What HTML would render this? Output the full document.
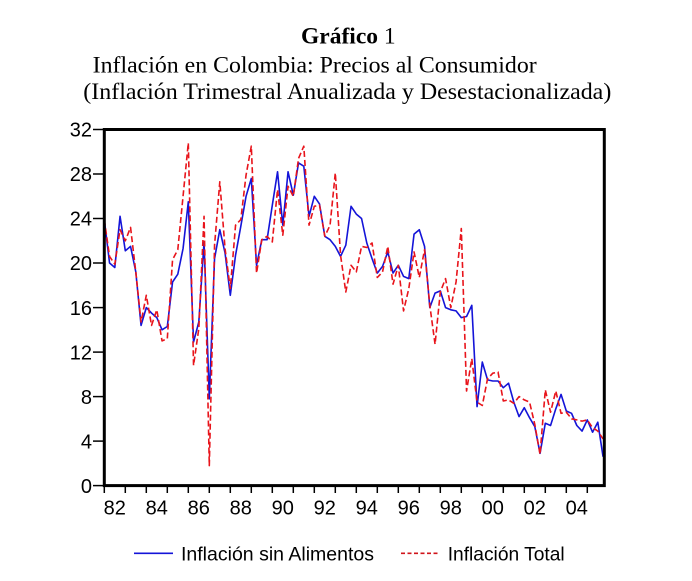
<!DOCTYPE html>
<html><head><meta charset="utf-8"><style>
html,body{margin:0;padding:0;background:#fff;}
svg{display:block;}
</style></head><body>
<svg width="692" height="581" viewBox="0 0 692 581" xmlns="http://www.w3.org/2000/svg">
<rect width="692" height="581" fill="#fff"/>
<g font-family="Liberation Serif, serif" fill="#000">
<text x="301" y="43.5" font-size="23.5"><tspan font-weight="bold">Gráfico</tspan> 1</text>
<text x="92.7" y="72.3" font-size="23.7" textLength="444" lengthAdjust="spacingAndGlyphs">Inflación en Colombia: Precios al Consumidor</text>
<text x="83.3" y="99" font-size="23.7" textLength="528" lengthAdjust="spacingAndGlyphs">(Inflación Trimestral Anualizada y Desestacionalizada)</text>
</g>
<g stroke="#000" stroke-width="1.5">
<line x1="93" y1="129.5" x2="104.3" y2="129.5"/>
<line x1="93" y1="174" x2="104.3" y2="174"/>
<line x1="93" y1="218.5" x2="104.3" y2="218.5"/>
<line x1="93" y1="263" x2="104.3" y2="263"/>
<line x1="93" y1="307.6" x2="104.3" y2="307.6"/>
<line x1="93" y1="352.1" x2="104.3" y2="352.1"/>
<line x1="93" y1="396.6" x2="104.3" y2="396.6"/>
<line x1="93" y1="441.1" x2="104.3" y2="441.1"/>
<line x1="93" y1="485.6" x2="104.3" y2="485.6"/>
<line x1="104.3" y1="485.6" x2="104.3" y2="493"/>
<line x1="125.3" y1="485.6" x2="125.3" y2="493"/>
<line x1="146.3" y1="485.6" x2="146.3" y2="493"/>
<line x1="167.3" y1="485.6" x2="167.3" y2="493"/>
<line x1="188.3" y1="485.6" x2="188.3" y2="493"/>
<line x1="209.3" y1="485.6" x2="209.3" y2="493"/>
<line x1="230.3" y1="485.6" x2="230.3" y2="493"/>
<line x1="251.3" y1="485.6" x2="251.3" y2="493"/>
<line x1="272.3" y1="485.6" x2="272.3" y2="493"/>
<line x1="293.3" y1="485.6" x2="293.3" y2="493"/>
<line x1="314.3" y1="485.6" x2="314.3" y2="493"/>
<line x1="335.3" y1="485.6" x2="335.3" y2="493"/>
<line x1="356.3" y1="485.6" x2="356.3" y2="493"/>
<line x1="377.3" y1="485.6" x2="377.3" y2="493"/>
<line x1="398.3" y1="485.6" x2="398.3" y2="493"/>
<line x1="419.3" y1="485.6" x2="419.3" y2="493"/>
<line x1="440.3" y1="485.6" x2="440.3" y2="493"/>
<line x1="461.3" y1="485.6" x2="461.3" y2="493"/>
<line x1="482.3" y1="485.6" x2="482.3" y2="493"/>
<line x1="503.3" y1="485.6" x2="503.3" y2="493"/>
<line x1="524.3" y1="485.6" x2="524.3" y2="493"/>
<line x1="545.3" y1="485.6" x2="545.3" y2="493"/>
<line x1="566.3" y1="485.6" x2="566.3" y2="493"/>
<line x1="587.3" y1="485.6" x2="587.3" y2="493"/>
</g>
<g font-family="Liberation Sans, Arial, sans-serif" font-size="20" fill="#000" text-anchor="end">
<text x="92" y="136.7">32</text>
<text x="92" y="181.2">28</text>
<text x="92" y="225.7">24</text>
<text x="92" y="270.2">20</text>
<text x="92" y="314.8">16</text>
<text x="92" y="359.3">12</text>
<text x="92" y="403.8">8</text>
<text x="92" y="448.3">4</text>
<text x="92" y="492.8">0</text>
</g>
<g font-family="Liberation Sans, Arial, sans-serif" font-size="20" fill="#000" text-anchor="middle">
<text x="114.8" y="514.3">82</text>
<text x="156.8" y="514.3">84</text>
<text x="198.8" y="514.3">86</text>
<text x="240.8" y="514.3">88</text>
<text x="282.8" y="514.3">90</text>
<text x="324.8" y="514.3">92</text>
<text x="366.8" y="514.3">94</text>
<text x="408.8" y="514.3">96</text>
<text x="450.8" y="514.3">98</text>
<text x="492.8" y="514.3">00</text>
<text x="534.8" y="514.3">02</text>
<text x="576.8" y="514.3">04</text>
</g>
<polyline fill="none" stroke="#1414d8" stroke-width="1.6" stroke-linejoin="round" points="104.3,219.6 109.55,263.0 114.8,267.5 120.05,216.3 125.3,250.8 130.55,246.4 135.8,271.9 141.05,325.4 146.3,307.6 151.55,313.1 156.8,317.6 162.05,329.8 167.3,326.5 172.55,282.0 177.8,274.2 183.05,248.6 188.3,201.8 193.55,342.0 198.8,322.0 204.05,241.9 209.3,398.8 214.55,258.6 219.8,229.7 225.05,253.0 230.3,295.3 235.55,255.2 240.8,226.3 246.05,196.3 251.3,178.5 256.55,265.3 261.8,239.7 267.05,239.7 272.3,205.2 277.55,171.8 282.8,225.2 288.05,171.8 293.3,195.2 298.55,162.9 303.8,166.2 309.05,216.3 314.3,196.3 319.55,204.1 324.8,236.3 330.05,239.7 335.3,246.4 340.55,256.4 345.8,245.2 351.05,206.3 356.3,214.1 361.55,218.5 366.8,243.0 372.05,258.6 377.3,273.1 382.55,266.4 387.8,251.9 393.05,273.1 398.3,265.3 403.55,276.4 408.8,278.6 414.05,234.1 419.3,229.7 424.55,246.4 429.8,307.6 435.05,293.1 440.3,290.9 445.55,307.6 450.8,309.8 456.05,310.9 461.3,317.6 466.55,316.5 471.8,305.3 477.05,406.6 482.3,362.1 487.55,379.9 492.8,381.0 498.05,381.0 503.3,387.7 508.55,383.2 513.8,402.1 519.05,416.6 524.3,407.7 529.55,417.7 534.8,426.6 540.05,453.3 545.3,423.3 550.55,425.5 555.8,408.8 561.05,394.4 566.3,411.0 571.55,413.3 576.8,425.5 582.05,431.1 587.3,419.9 592.55,432.2 597.8,422.2 603.05,456.7"/>
<polyline fill="none" stroke="#e8141b" stroke-width="1.6" stroke-dasharray="6,3" stroke-linejoin="round" points="104.3,219.6 109.55,256.4 114.8,264.2 120.05,229.7 125.3,240.8 130.55,227.4 135.8,271.9 141.05,322.0 146.3,295.3 151.55,325.4 156.8,309.8 162.05,340.9 167.3,338.7 172.55,259.7 177.8,249.7 183.05,196.3 188.3,142.9 193.55,365.4 198.8,328.7 204.05,216.3 209.3,465.6 214.55,245.2 219.8,181.8 225.05,248.6 230.3,288.6 235.55,225.2 240.8,219.6 246.05,175.1 251.3,146.2 256.55,273.1 261.8,239.7 267.05,236.3 272.3,241.9 277.55,189.6 282.8,235.2 288.05,186.3 293.3,196.3 298.55,158.4 303.8,146.2 309.05,225.2 314.3,206.3 319.55,205.2 324.8,236.3 330.05,225.2 335.3,172.9 340.55,255.2 345.8,292.0 351.05,265.3 356.3,271.9 361.55,246.4 366.8,247.5 372.05,243.0 377.3,277.5 382.55,271.9 387.8,246.4 393.05,284.2 398.3,265.3 403.55,310.9 408.8,288.6 414.05,251.9 419.3,277.5 424.55,249.7 429.8,305.3 435.05,344.3 440.3,292.0 445.55,278.6 450.8,307.6 456.05,282.0 461.3,228.5 466.55,391.0 471.8,358.7 477.05,402.1 482.3,405.5 487.55,378.8 492.8,373.2 498.05,372.1 503.3,401.0 508.55,399.9 513.8,403.3 519.05,396.6 524.3,399.9 529.55,402.1 534.8,424.4 540.05,454.4 545.3,389.9 550.55,412.2 555.8,391.0 561.05,413.3 566.3,412.2 571.55,418.8 576.8,419.9 582.05,421.1 587.3,419.9 592.55,427.7 597.8,431.1 603.05,438.9"/>
<rect x="104.3" y="129.5" width="500" height="356.1" fill="none" stroke="#000" stroke-width="3"/>
<line x1="134" y1="553.3" x2="173" y2="553.3" stroke="#1414d8" stroke-width="1.6"/>
<line x1="401" y1="553.3" x2="439" y2="553.3" stroke="#d0141b" stroke-width="1.6" stroke-dasharray="4,2.5"/>
<g font-family="Liberation Sans, Arial, sans-serif" font-size="19.4" fill="#000">
<text x="181" y="560.5" textLength="193" lengthAdjust="spacingAndGlyphs">Inflación sin Alimentos</text>
<text x="447.7" y="560.5" textLength="117" lengthAdjust="spacingAndGlyphs">Inflación Total</text>
</g>
</svg>
</body></html>
